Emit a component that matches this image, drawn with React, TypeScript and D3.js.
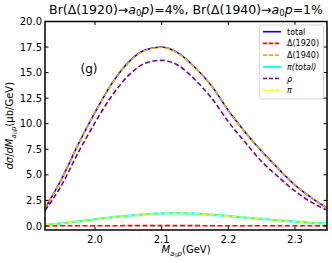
import React from "react";
import * as d3 from "d3";

const massGeV = [1.925, 1.95, 1.975, 2.0, 2.025, 2.05, 2.075, 2.1, 2.125, 2.15, 2.175, 2.2, 2.225, 2.25, 2.275, 2.3, 2.325, 2.348];
const totalVals = [1.7, 4.6, 8.0, 11.1, 13.9, 16.0, 17.2, 17.5, 16.9, 15.5, 13.7, 11.3, 9.2, 7.3, 5.6, 4.0, 2.75, 1.75];
const delta1920Vals = [0.005, 0.01, 0.015, 0.02, 0.02, 0.025, 0.025, 0.025, 0.025, 0.025, 0.02, 0.02, 0.02, 0.015, 0.015, 0.01, 0.01, 0.005];
const delta1940Vals = [1.69, 4.59, 7.98, 11.08, 13.88, 15.97, 17.17, 17.47, 16.87, 15.47, 13.68, 11.28, 9.18, 7.28, 5.58, 3.99, 2.74, 1.74];
const piTotalVals = [0.1, 0.25, 0.45, 0.65, 0.85, 1.0, 1.13, 1.22, 1.24, 1.2, 1.1, 0.96, 0.82, 0.68, 0.54, 0.41, 0.3, 0.22];
const rhoVals = [1.5, 4.0, 7.2, 10.1, 12.7, 14.7, 15.9, 16.2, 15.7, 14.3, 12.5, 10.2, 8.2, 6.3, 4.8, 3.4, 2.3, 1.55];
const piVals = [0.09, 0.24, 0.44, 0.64, 0.84, 0.99, 1.12, 1.21, 1.23, 1.19, 1.09, 0.95, 0.81, 0.67, 0.53, 0.4, 0.29, 0.21];
const xTicks = [2.0, 2.1, 2.2, 2.3];
const yTicks = [0, 2.5, 5, 7.5, 10, 12.5, 15, 17.5, 20];

const series = [
  { key: "total", vals: totalVals, color: "#0000ff", dash: "", width: 1.6 },
  { key: "d1920", vals: delta1920Vals, color: "#ff0000", dash: "5,2.5", width: 1.6 },
  { key: "d1940", vals: delta1940Vals, color: "#ffa500", dash: "5,2.5", width: 1.6 },
  { key: "pitot", vals: piTotalVals, color: "#00ffff", dash: "", width: 2.2 },
  { key: "rho", vals: rhoVals, color: "#800080", dash: "5,2.5", width: 1.6 },
  { key: "pi", vals: piVals, color: "#ffff00", dash: "5,2.5", width: 1.6 },
];

const W = 332, H = 263;
const L = 45, R = 327, T = 21.5, B = 230;

export default function App() {
  const x = d3.scaleLinear().domain([1.925, 2.348]).range([L, R]);
  const y = d3.scaleLinear().domain([-0.4, 20]).range([B, T]);
  const line = (vals: number[]) =>
    d3.line<number>().x((_, i) => x(massGeV[i])).y((d) => y(d)).curve(d3.curveMonotoneX)(vals) || "";
  const font = "DejaVu Sans, sans-serif";
  const legendItems = [
    { color: "#0000ff", dash: "", w: 1.6, label: <tspan>total</tspan> },
    { color: "#ff0000", dash: "4,2", w: 1.6, label: <tspan>Δ(1920)</tspan> },
    { color: "#ffa500", dash: "4,2", w: 1.6, label: <tspan>Δ(1940)</tspan> },
    { color: "#00ffff", dash: "", w: 2, label: <tspan fontStyle="italic">π(total)</tspan> },
    { color: "#800080", dash: "4,2", w: 1.6, label: <tspan fontStyle="italic">ρ</tspan> },
    { color: "#ffff00", dash: "4,2", w: 1.6, label: <tspan fontStyle="italic">π</tspan> },
  ];
  return (
    <svg width={W} height={H} style={{ position: "absolute", left: 0, top: 0, background: "#fff" }} fontFamily={font}>
      <defs>
        <clipPath id="plotclip">
          <rect x={L} y={T} width={R - L} height={B - T} />
        </clipPath>
      </defs>
      <text x={(L + R) / 2} y={13.5} textAnchor="middle" fontSize={12.5}>
        Br(Δ(1920)→<tspan fontStyle="italic">a</tspan><tspan fontSize={8.5} dy={2.5}>0</tspan><tspan dy={-2.5} fontStyle="italic">p</tspan>)=4%, Br(Δ(1940)→<tspan fontStyle="italic">a</tspan><tspan fontSize={8.5} dy={2.5}>0</tspan><tspan dy={-2.5} fontStyle="italic">p</tspan>=1%
      </text>
      <g clipPath="url(#plotclip)">
        {series.map((s) => (
          <path key={s.key} d={line(s.vals)} fill="none" stroke={s.color} strokeWidth={s.width} strokeDasharray={s.dash} />
        ))}
      </g>
      {xTicks.map((t) => (
        <g key={"x" + t}>
          <line x1={x(t)} x2={x(t)} y1={B} y2={B - 3.5} stroke="#000" strokeWidth={1} />
          <line x1={x(t)} x2={x(t)} y1={T} y2={T + 3.5} stroke="#000" strokeWidth={1} />
          <text x={x(t)} y={B + 13} textAnchor="middle" fontSize={10}>{t.toFixed(1)}</text>
        </g>
      ))}
      {yTicks.map((t) => (
        <g key={"y" + t}>
          <line x1={L} x2={L + 3.5} y1={y(t)} y2={y(t)} stroke="#000" strokeWidth={1} />
          <line x1={R} x2={R - 3.5} y1={y(t)} y2={y(t)} stroke="#000" strokeWidth={1} />
          <text x={L - 3} y={y(t) + 3.6} textAnchor="end" fontSize={10}>{t.toFixed(1)}</text>
        </g>
      ))}
      <rect x={L} y={T} width={R - L} height={B - T} fill="none" stroke="#000" strokeWidth={1.5} />
      <text x={89} y={73} textAnchor="middle" fontSize={12}>(g)</text>
      <g>
        <rect x={259.5} y={25} width={64} height={74} rx={2} fill="#fff" fillOpacity={0.85} stroke="#cccccc" strokeWidth={0.8} />
        {legendItems.map((it, i) => {
          const yy = 31.7 + i * 11.7;
          return (
            <g key={i}>
              <line x1={263} x2={281} y1={yy} y2={yy} stroke={it.color} strokeWidth={it.w} strokeDasharray={it.dash} />
              <text x={287} y={yy + 3} fontSize={8}>{it.label}</text>
            </g>
          );
        })}
      </g>
      <text x={(L + R) / 2} y={253} textAnchor="middle" fontSize={10}>
        <tspan fontStyle="italic">M</tspan><tspan fontSize={7} dy={2.5} fontStyle="italic">a</tspan><tspan fontSize={5} dy={1}>0</tspan><tspan fontSize={7} dy={-1} fontStyle="italic">p</tspan><tspan dy={-2.5}>(GeV)</tspan>
      </text>
      <text transform={`translate(13, ${(T + B) / 2}) rotate(-90)`} textAnchor="middle" fontSize={10}>
        <tspan fontStyle="italic">dσ</tspan>/<tspan fontStyle="italic">dM</tspan><tspan fontSize={7} dy={2.5} fontStyle="italic">a</tspan><tspan fontSize={5} dy={1}>0</tspan><tspan fontSize={7} dy={-1} fontStyle="italic">p</tspan><tspan dy={-2.5}>(μb/GeV)</tspan>
      </text>
    </svg>
  );
}
